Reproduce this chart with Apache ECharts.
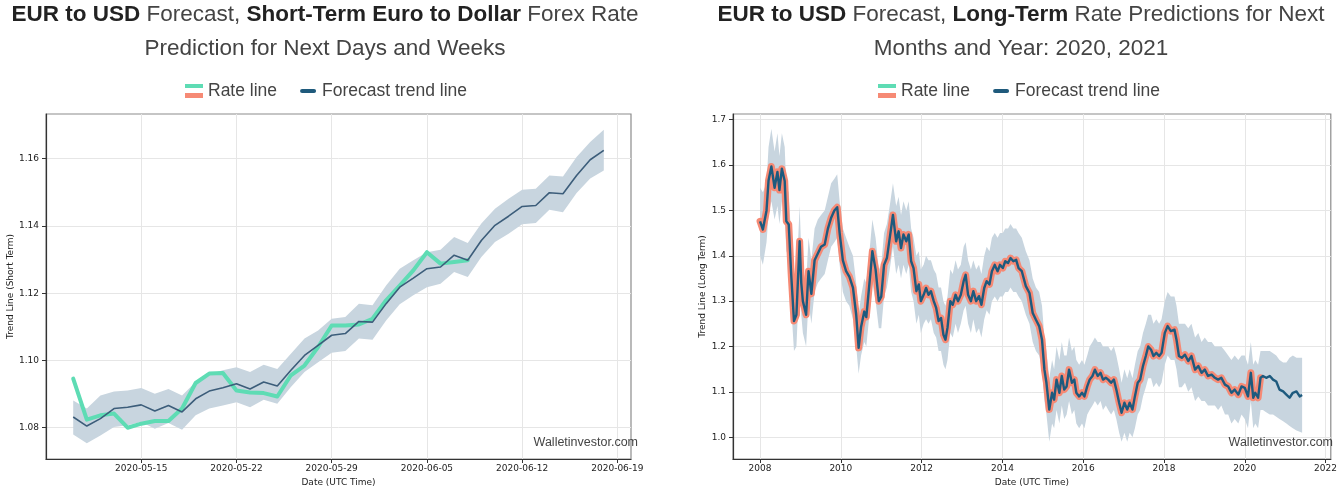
<!DOCTYPE html>
<html><head><meta charset="utf-8">
<script src="https://cdn.jsdelivr.net/npm/echarts@6/dist/echarts.min.js"></script>
<style>html,body{margin:0;padding:0;background:#fff}#c{width:1340px;height:492px}</style>
</head><body><div id="c"></div>
<script>
// ---------- Short-term chart data ----------
const stDates = ['2020-05-10','2020-05-11','2020-05-12','2020-05-13','2020-05-14','2020-05-15','2020-05-16','2020-05-17','2020-05-18','2020-05-19',
  '2020-05-20','2020-05-21','2020-05-22','2020-05-23','2020-05-24','2020-05-25','2020-05-26','2020-05-27','2020-05-28','2020-05-29',
  '2020-05-30','2020-05-31','2020-06-01','2020-06-02','2020-06-03','2020-06-04','2020-06-05','2020-06-06','2020-06-07','2020-06-08',
  '2020-06-09','2020-06-10','2020-06-11','2020-06-12','2020-06-13','2020-06-14','2020-06-15','2020-06-16','2020-06-17','2020-06-18'];
const stRate = [1.0946,1.0824,1.0837,1.0842,1.0800,1.0812,1.0820,1.0820,1.0857,1.0933,
  1.0961,1.0963,1.0911,1.0905,1.0903,1.0893,1.0956,1.0985,1.1040,1.1104,
  1.1104,1.1107,1.1124,1.1179,1.1223,1.1268,1.1322,1.1288,1.1293,1.1298];
const stForecast = [1.0832,1.0805,1.0827,1.0857,1.0861,1.0868,1.0850,1.0866,1.0847,1.0886,
  1.0909,1.0919,1.0931,1.0915,1.0936,1.0924,1.0971,1.1015,1.1045,1.1075,
  1.1080,1.1116,1.1114,1.1169,1.1218,1.1245,1.1273,1.1278,1.1313,1.1298,
  1.1357,1.1402,1.1429,1.1458,1.1461,1.1499,1.1496,1.1550,1.1597,1.1625];
const stUpper = [1.0881,1.0857,1.0896,1.0908,1.0911,1.0918,1.0901,1.0915,1.0896,1.0936,
  1.0959,1.0971,1.0980,1.0966,1.0987,1.0975,1.1020,1.1065,1.1089,1.1124,
  1.1129,1.1169,1.1164,1.1223,1.1273,1.1298,1.1322,1.1329,1.1367,1.1349,
  1.1407,1.1451,1.1481,1.1508,1.1511,1.1550,1.1547,1.1605,1.1650,1.1686];
const stLower = [1.0780,1.0754,1.0777,1.0802,1.0807,1.0817,1.0797,1.0814,1.0794,1.0837,
  1.0857,1.0866,1.0876,1.0861,1.0883,1.0871,1.0921,1.0966,1.0995,1.1023,
  1.1028,1.1065,1.1062,1.1119,1.1167,1.1194,1.1218,1.1228,1.1263,1.1248,
  1.1308,1.1352,1.1377,1.1405,1.1409,1.1448,1.1441,1.1498,1.1541,1.1565];
const stXTicks = ['2020-05-15','2020-05-22','2020-05-29','2020-06-05','2020-06-12','2020-06-19'];
const stYTicks = [1.08,1.10,1.12,1.14,1.16];

// ---------- Long-term chart data ----------
const ltYears = [
  2008.00,2008.07,2008.16,2008.21,2008.28,2008.36,2008.43,2008.48,2008.54,2008.61,
  2008.65,2008.71,2008.77,2008.84,2008.90,2008.98,2009.02,2009.06,2009.14,2009.20,
  2009.27,2009.35,2009.43,2009.51,2009.60,2009.68,2009.76,2009.84,2009.91,2009.97,
  2010.05,2010.13,2010.21,2010.30,2010.38,2010.44,2010.50,2010.58,2010.63,2010.73,
  2010.78,2010.86,2010.94,2011.00,2011.07,2011.14,2011.21,2011.29,2011.37,2011.43,
  2011.49,2011.55,2011.62,2011.68,2011.74,2011.80,2011.87,2011.93,2011.98,2012.05,
  2012.11,2012.17,2012.23,2012.30,2012.36,2012.42,2012.48,2012.54,2012.59,2012.64,
  2012.71,2012.77,2012.84,2012.90,2012.97,2013.04,2013.09,2013.15,2013.22,2013.28,
  2013.35,2013.42,2013.48,2013.55,2013.61,2013.68,2013.74,2013.81,2013.88,2013.94,
  2014.01,2014.07,2014.14,2014.20,2014.27,2014.34,2014.40,2014.48,2014.58,2014.67,
  2014.75,2014.83,2014.91,2014.98,2015.04,2015.09,2015.16,2015.23,2015.28,2015.34,
  2015.41,2015.47,2015.53,2015.59,2015.65,2015.72,2015.78,2015.83,2015.90,2015.97,
  2016.03,2016.10,2016.16,2016.23,2016.29,2016.36,2016.43,2016.49,2016.56,2016.62,
  2016.69,2016.76,2016.82,2016.89,2016.95,2017.02,2017.09,2017.15,2017.22,2017.28,
  2017.35,2017.41,2017.48,2017.55,2017.61,2017.68,2017.74,2017.81,2017.88,2017.94,
  2018.02,2018.09,2018.17,2018.26,2018.31,2018.37,2018.44,2018.52,2018.60,2018.68,
  2018.77,2018.85,2018.93,2019.01,2019.09,2019.18,2019.26,2019.34,2019.42,2019.51,
  2019.59,2019.67,2019.75,2019.84,2019.92,2020.00,2020.08,2020.15,2020.21,2020.26,2020.33,2020.39];
const ltRate = [
  1.476,1.458,1.500,1.566,1.597,1.550,1.585,1.545,1.592,1.565,
  1.476,1.469,1.360,1.256,1.270,1.432,1.340,1.300,1.270,1.366,
  1.316,1.390,1.405,1.420,1.425,1.460,1.484,1.500,1.507,1.450,
  1.390,1.366,1.354,1.330,1.270,1.197,1.243,1.277,1.265,1.360,
  1.410,1.370,1.300,1.310,1.380,1.395,1.439,1.490,1.432,1.454,
  1.417,1.447,1.432,1.447,1.388,1.373,1.322,1.337,1.300,1.314,
  1.329,1.314,1.322,1.300,1.285,1.256,1.263,1.226,1.215,1.241,
  1.300,1.292,1.314,1.300,1.314,1.344,1.358,1.314,1.300,1.322,
  1.300,1.311,1.292,1.329,1.344,1.337,1.366,1.380,1.366,1.380,
  1.373,1.388,1.384,1.395,1.388,1.391,1.373,1.366,1.333,1.318,
  1.274,1.259,1.245,1.215,1.149,1.120,1.061,1.098,1.083,1.127,
  1.098,1.135,1.105,1.112,1.149,1.120,1.127,1.098,1.090,1.098,
  1.090,1.112,1.127,1.135,1.149,1.135,1.142,1.127,1.131,1.127,
  1.120,1.127,1.105,1.076,1.054,1.076,1.061,1.076,1.061,1.090,
  1.120,1.127,1.157,1.179,1.200,1.193,1.179,1.186,1.179,1.186,
  1.230,1.245,1.234,1.237,1.215,1.179,1.175,1.182,1.168,1.179,
  1.149,1.157,1.142,1.149,1.135,1.138,1.131,1.127,1.131,1.116,
  1.112,1.098,1.105,1.094,1.112,1.109,1.090,1.142,1.087,1.098,1.087,1.131];
const ltUpper = [
  1.55,1.54,1.56,1.64,1.68,1.63,1.67,1.62,1.67,1.64,
  1.55,1.54,1.44,1.33,1.35,1.51,1.41,1.37,1.34,1.44,
  1.39,1.46,1.48,1.49,1.50,1.53,1.56,1.57,1.58,1.52,
  1.46,1.44,1.42,1.40,1.34,1.27,1.31,1.35,1.34,1.43,
  1.48,1.44,1.37,1.38,1.45,1.47,1.51,1.56,1.51,1.53,
  1.49,1.52,1.50,1.52,1.46,1.44,1.40,1.41,1.37,1.38,
  1.40,1.39,1.39,1.37,1.36,1.33,1.33,1.30,1.29,1.31,
  1.37,1.36,1.39,1.37,1.38,1.42,1.43,1.39,1.37,1.39,
  1.37,1.38,1.36,1.40,1.42,1.41,1.44,1.45,1.44,1.45,
  1.45,1.46,1.46,1.47,1.46,1.46,1.45,1.44,1.41,1.39,
  1.35,1.33,1.32,1.29,1.22,1.19,1.13,1.17,1.15,1.20,
  1.17,1.21,1.18,1.18,1.22,1.19,1.20,1.17,1.16,1.17,
  1.16,1.18,1.20,1.21,1.22,1.21,1.21,1.20,1.20,1.20,
  1.19,1.20,1.18,1.15,1.12,1.15,1.13,1.15,1.13,1.16,
  1.19,1.20,1.23,1.25,1.27,1.27,1.25,1.26,1.25,1.26,
  1.30,1.32,1.31,1.31,1.29,1.25,1.25,1.25,1.24,1.25,
  1.22,1.23,1.21,1.22,1.21,1.21,1.20,1.20,1.20,1.19,
  1.18,1.17,1.18,1.17,1.18,1.18,1.16,1.21,1.16,1.17,1.16,1.19];
const ltLower = [
  1.40,1.38,1.43,1.49,1.52,1.48,1.51,1.47,1.52,1.49,
  1.41,1.40,1.29,1.19,1.20,1.36,1.27,1.23,1.20,1.30,
  1.25,1.32,1.34,1.35,1.36,1.39,1.42,1.43,1.44,1.38,
  1.32,1.30,1.29,1.26,1.20,1.14,1.18,1.21,1.20,1.29,
  1.34,1.30,1.24,1.24,1.31,1.33,1.37,1.42,1.36,1.38,
  1.35,1.38,1.36,1.38,1.32,1.30,1.25,1.27,1.23,1.25,
  1.26,1.25,1.26,1.23,1.22,1.19,1.19,1.16,1.15,1.17,
  1.23,1.22,1.25,1.23,1.25,1.28,1.29,1.25,1.23,1.26,
  1.23,1.24,1.22,1.26,1.28,1.27,1.30,1.31,1.30,1.31,
  1.31,1.32,1.32,1.33,1.32,1.32,1.31,1.30,1.27,1.25,
  1.21,1.19,1.18,1.15,1.08,1.05,0.99,1.03,1.02,1.06,
  1.03,1.07,1.04,1.05,1.08,1.05,1.06,1.03,1.02,1.03,
  1.02,1.05,1.06,1.07,1.08,1.07,1.08,1.06,1.07,1.06,
  1.05,1.06,1.04,1.01,0.99,1.01,0.99,1.01,1.00,1.02,
  1.05,1.06,1.09,1.11,1.13,1.13,1.11,1.12,1.11,1.12,
  1.16,1.18,1.17,1.17,1.15,1.11,1.11,1.12,1.10,1.11,
  1.08,1.09,1.08,1.08,1.07,1.07,1.07,1.06,1.07,1.05,
  1.05,1.03,1.04,1.03,1.05,1.04,1.02,1.08,1.02,1.03,1.02,1.06];
const ltFcYears = [2020.45,2020.53,2020.62,2020.70,2020.78,2020.86,2020.95,2021.03,2021.11,2021.19,2021.28,2021.36,2021.42];
const ltFcValues = [1.135,1.131,1.135,1.127,1.123,1.105,1.101,1.094,1.087,1.098,1.101,1.090,1.093];
const ltFcUpper = [1.19,1.19,1.19,1.185,1.18,1.17,1.165,1.165,1.175,1.18,1.175,1.175,1.175];
const ltFcLower = [1.06,1.055,1.05,1.05,1.045,1.04,1.035,1.03,1.025,1.02,1.015,1.012,1.01];
const ltXTicks = [2008,2010,2012,2014,2016,2018,2020,2022];
const ltYTicks = [1.0,1.1,1.2,1.3,1.4,1.5,1.6,1.7];

// ---------- helpers ----------
const ts = d => Date.parse(d + 'T00:00:00Z');
const fmtDate = v => new Date(v).toISOString().slice(0, 10);
const pairs = (xs, ys) => ys.map((y, i) => [xs[i], y]);
const triples = (xs, lo, hi) => xs.map((x, i) => [x, lo[i], hi[i]]);

const C = {
  band: '#c8d5df', green: '#5edcb4', salmon: '#f68a75',
  stDark: '#3c5d7a', ltDark: '#1d5a7e', axis: '#333', grid: '#e6e6e6'
};
const SANS = '"Liberation Sans", Arial, sans-serif';
const MPL = '"DejaVu Sans", sans-serif';

const svgIcon = s => 'image://data:image/svg+xml;charset=utf-8,' + encodeURIComponent(s);
const rateIcon = svgIcon("<svg xmlns='http://www.w3.org/2000/svg' width='18' height='14'><rect x='0' y='0' width='18' height='4' fill='" + C.green + "'/><rect x='0' y='9' width='18' height='5' fill='" + C.salmon + "'/></svg>");
const fcIcon = svgIcon("<svg xmlns='http://www.w3.org/2000/svg' width='18' height='14'><rect x='1' y='5' width='16' height='4' rx='2' fill='#1f5a7c'/></svg>");

function xAxisBase(gridIndex, min, max, ticks, fmt) {
  return {
    type: 'value', gridIndex, min, max,
    name: 'Date (UTC Time)', nameLocation: 'middle', nameGap: 17,
    nameTextStyle: { fontFamily: MPL, fontSize: 9, color: '#222' },
    axisLine: { show: true, lineStyle: { color: C.axis, width: 1.2 } },
    axisTick: { show: true, length: 4, lineStyle: { color: C.axis }, customValues: ticks },
    axisLabel: { customValues: ticks, formatter: fmt, margin: 5, fontFamily: MPL, fontSize: 9, color: '#222' },
    splitLine: { show: true, lineStyle: { color: C.grid, width: 1 } }
  };
}
function yAxisBase(gridIndex, min, max, ticks, fmt, name, gap) {
  return {
    type: 'value', gridIndex, min, max,
    name, nameLocation: 'middle', nameGap: gap,
    nameTextStyle: { fontFamily: MPL, fontSize: 9, color: '#222' },
    axisLine: { show: true, lineStyle: { color: C.axis, width: 1.2 } },
    axisTick: { show: true, length: 4, lineStyle: { color: C.axis }, customValues: ticks },
    axisLabel: { customValues: ticks, formatter: fmt, margin: 7, fontFamily: MPL, fontSize: 9, color: '#222' },
    splitLine: { show: true, lineStyle: { color: C.grid, width: 1 } }
  };
}

// band drawn as one polygon through the axis scales
function bandRender(params, api) {
  if (params.dataIndex !== 0) return null;
  const data = params.context.bandData;
  const top = data.map(d => api.coord([d[0], d[2]]));
  const bot = data.map(d => api.coord([d[0], d[1]])).reverse();
  return { type: 'polygon', shape: { points: top.concat(bot) }, style: { fill: C.band }, silent: true };
}
function makeBand(xIdx, data) {
  return {
    type: 'custom', xAxisIndex: xIdx, yAxisIndex: xIdx, silent: true, z: 1, clip: true,
    data: data, encode: { x: 0, y: [1, 2] },
    renderItem: (params, api) => { params.context.bandData = data; return bandRender(params, api); }
  };
}

const stX = stDates.map(ts);
const stRateX = stX.slice(0, stRate.length);
const bandYears = ltYears.concat(ltFcYears);
const bandUpper = ltUpper.concat(ltFcUpper);
const bandLower = ltLower.concat(ltFcLower);
const fcYears = ltYears.concat(ltFcYears);
const fcValues = ltRate.concat(ltFcValues);

const titleRich = { b: { fontFamily: SANS, fontSize: 22.5, fontWeight: 'bold', fill: '#222', lineHeight: 34 } };

const option = {
  animation: false,
  backgroundColor: '#fff',
  graphic: [
    { type: 'text', x: 325, y: 32, silent: true, style: {
      text: '{b|EUR to USD} Forecast, {b|Short-Term Euro to Dollar} Forex Rate\nPrediction for Next Days and Weeks',
      rich: titleRich, fontFamily: SANS, fontSize: 22.5, fill: '#444', lineHeight: 34, align: 'center', verticalAlign: 'middle' } },
    { type: 'text', x: 1021, y: 32, silent: true, style: {
      text: '{b|EUR to USD} Forecast, {b|Long-Term} Rate Predictions for Next\nMonths and Year: 2020, 2021',
      rich: titleRich, fontFamily: SANS, fontSize: 22.5, fill: '#444', lineHeight: 34, align: 'center', verticalAlign: 'middle' } },
    { type: 'text', x: 638, y: 443, silent: true, z: 100, style: { text: 'Walletinvestor.com', fontFamily: SANS, fontSize: 12.5, fill: '#444', align: 'right', verticalAlign: 'middle' } },
    { type: 'text', x: 1333, y: 443, silent: true, z: 100, style: { text: 'Walletinvestor.com', fontFamily: SANS, fontSize: 12.5, fill: '#444', align: 'right', verticalAlign: 'middle' } }
  ],
  legend: [
    { left: 185, top: 82, padding: 0, itemWidth: 18, itemHeight: 14, itemGap: 22, selectedMode: false,
      textStyle: { fontFamily: SANS, fontSize: 17.5, color: '#444' },
      data: [{ name: 'Rate line', icon: rateIcon }, { name: 'Forecast trend line', icon: fcIcon }] },
    { left: 878, top: 82, padding: 0, itemWidth: 18, itemHeight: 14, itemGap: 22, selectedMode: false,
      textStyle: { fontFamily: SANS, fontSize: 17.5, color: '#444' },
      data: [{ name: 'Rate line', icon: rateIcon }, { name: 'Forecast trend line', icon: fcIcon }] }
  ],
  grid: [
    { left: 46, top: 114, width: 585, height: 345, show: true, borderColor: '#8c8c8c', borderWidth: 1.2, containLabel: false },
    { left: 733, top: 114, width: 600, height: 345, show: true, borderColor: '#8c8c8c', borderWidth: 1.2, containLabel: false }
  ],
  xAxis: [
    xAxisBase(0, ts('2020-05-08'), ts('2020-06-20'), stXTicks.map(ts), fmtDate),
    xAxisBase(1, 2007.33, 2022.13, ltXTicks, v => String(Math.round(v)))
  ],
  yAxis: [
    yAxisBase(0, 1.0707, 1.1733, stYTicks, v => v.toFixed(2), 'Trend Line (Short Term)', 31),
    yAxisBase(1, 0.952, 1.7126, ltYTicks, v => v.toFixed(1), 'Trend Line (Long Term)', 26)
  ],
  series: [
    makeBand(0, triples(stX, stLower, stUpper)),
    { name: 'Rate line', type: 'line', xAxisIndex: 0, yAxisIndex: 0, symbol: 'none', silent: true,
      lineStyle: { color: C.green, width: 4, join: 'round', cap: 'round' }, itemStyle: { color: C.green },
      data: pairs(stRateX, stRate), z: 2 },
    { name: 'Forecast trend line', type: 'line', xAxisIndex: 0, yAxisIndex: 0, symbol: 'none', silent: true,
      lineStyle: { color: C.stDark, width: 1.6 }, itemStyle: { color: C.stDark },
      data: pairs(stX, stForecast), z: 3 },
    makeBand(1, triples(bandYears, bandLower, bandUpper)),
    { name: 'Rate line', type: 'line', xAxisIndex: 1, yAxisIndex: 1, symbol: 'none', silent: true,
      lineStyle: { color: C.salmon, width: 7, join: 'round', cap: 'round' }, itemStyle: { color: C.salmon },
      data: pairs(ltYears, ltRate), z: 2 },
    { name: 'Forecast trend line', type: 'line', xAxisIndex: 1, yAxisIndex: 1, symbol: 'none', silent: true,
      lineStyle: { color: C.ltDark, width: 2.4, join: 'round' }, itemStyle: { color: C.ltDark },
      data: pairs(fcYears, fcValues), z: 3 }
  ]
};

const chart = echarts.init(document.getElementById('c'), null, { renderer: 'canvas' });
chart.setOption(option);
</script>
</body></html>
